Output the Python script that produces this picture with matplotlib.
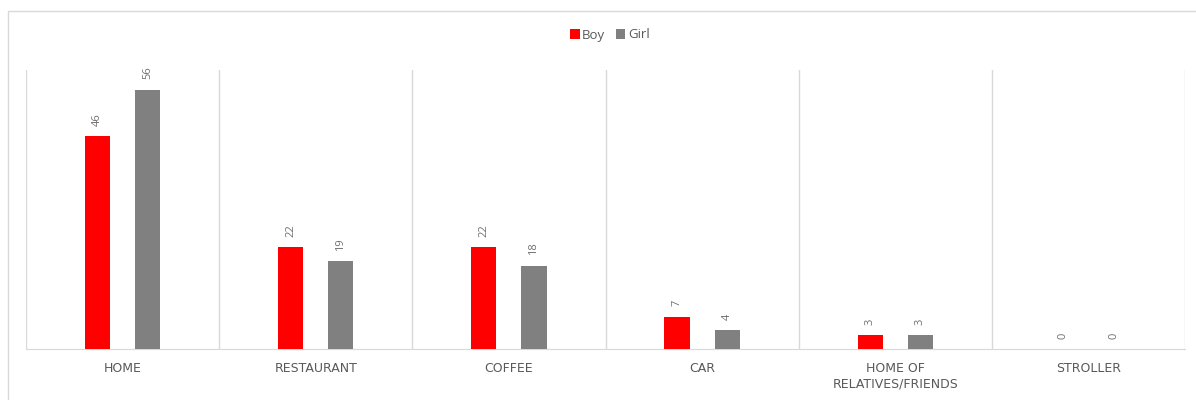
import matplotlib.pyplot as plt
from matplotlib.patches import Rectangle
import numpy as np

categories = ["HOME", "RESTAURANT", "COFFEE", "CAR", "HOME OF\nRELATIVES/FRIENDS", "STROLLER"]
boy = [46, 22, 22, 7, 3, 0]
girl = [56, 19, 18, 4, 3, 0]
series_names = ["Boy", "Girl"]
colors = ["#FF0000", "#808080"]

plt.rcParams['font.family'] = ['Open Sans', 'DejaVu Sans']

fig = plt.figure(figsize=(11.96, 4.0), dpi=100)
fig.patch.set_facecolor("white")
# outer chart border
fig.patches.append(Rectangle((8 / 1196, -0.05), 1.1, (389 / 400) + 0.05,
                             transform=fig.transFigure, fill=False,
                             edgecolor="#D9D9D9", linewidth=1.0))

ax = fig.add_axes([26 / 1196, 51 / 400, (1185 - 26) / 1196, (349 - 70) / 400])
x = np.arange(len(categories))
w = 0.13
off = 0.13
b1 = ax.bar(x - off, boy, w, color=colors[0], label=series_names[0], zorder=3)
b2 = ax.bar(x + off, girl, w, color=colors[1], label=series_names[1], zorder=3)

ax.set_xlim(-0.5, len(categories) - 0.5)
ax.set_ylim(0, 60.3)
for s in ["top", "left", "right"]:
    ax.spines[s].set_visible(False)
ax.spines["bottom"].set_color("#D9D9D9")
ax.set_yticks([])
ax.set_xticks(x)
ax.set_xticklabels(categories, color="#595959", fontsize=9, linespacing=1.3,
                   family=['DejaVu Sans'])
ax.tick_params(axis="x", length=0, pad=9)
for b in np.arange(-0.5, len(categories), 1.0):
    ax.axvline(b, color="#D9D9D9", linewidth=1.0, zorder=1)

for bars, vals in ((b1, boy), (b2, girl)):
    for r, v in zip(bars, vals):
        ax.annotate(str(v), (r.get_x() + r.get_width() / 2, r.get_height()),
                    xytext=(0, 7.5), textcoords="offset points", rotation=90,
                    ha="center", va="bottom", fontsize=8, color="#707070")

leg = fig.legend(loc="center", bbox_to_anchor=(0.51, 1 - 35 / 400), ncol=2,
                 frameon=False, fontsize=9.5, handlelength=0.7, handleheight=0.7,
                 handletextpad=0.2, columnspacing=0.8)
for t in leg.get_texts():
    t.set_color("#595959")

fig.savefig("out.png", dpi=100, facecolor="white")
